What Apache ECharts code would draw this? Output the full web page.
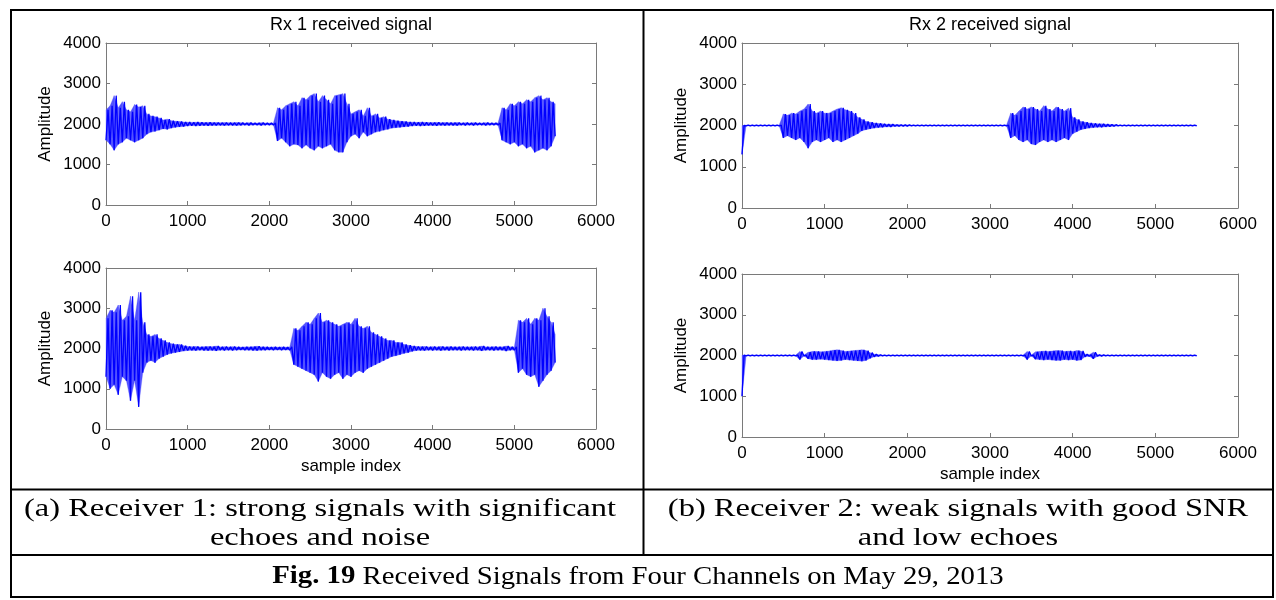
<!doctype html>
<html><head><meta charset="utf-8" />
<style>
  html,body{margin:0;padding:0;background:#ffffff}
  #app{width:1276px;height:600px;background:#ffffff}
</style>
<script src="https://cdn.jsdelivr.net/npm/echarts@6/dist/echarts.min.js"></script>
</head><body><div id="app"></div>
<script>
// envelope of each received signal, every 50 samples (0..5500)
const SAMPLE_STEP = 50;

const rx1TopHi = [
  2350,2450,2700,2400,2550,2350,2300,2480,2420,2450,
  2250,2200,2180,2150,2100,2120,2080,2070,2060,2050,
  2045,2040,2045,2040,2035,2040,2035,2035,2030,2035,
  2030,2030,2035,2030,2025,2030,2025,2025,2030,2025,
  2025,2025,2400,2350,2450,2500,2550,2450,2650,2600,
  2700,2750,2550,2700,2600,2500,2700,2720,2750,2500,
  2250,2300,2350,2200,2400,2200,2250,2150,2180,2120,
  2100,2080,2070,2060,2050,2045,2040,2045,2040,2035,
  2035,2040,2030,2035,2030,2030,2035,2025,2030,2025,
  2030,2025,2025,2030,2025,2025,2025,2400,2350,2500,
  2450,2550,2500,2600,2550,2650,2700,2600,2650,2550,2500
];
const rx1TopLo = [
  1600,1500,1350,1500,1550,1650,1600,1550,1600,1650,
  1750,1800,1820,1850,1880,1870,1900,1920,1930,1940,
  1955,1960,1955,1960,1965,1960,1965,1965,1970,1965,
  1970,1970,1965,1970,1975,1970,1975,1975,1970,1975,
  1975,1975,1580,1650,1550,1450,1500,1480,1400,1480,
  1400,1350,1450,1400,1450,1500,1350,1300,1300,1550,
  1700,1750,1650,1800,1700,1750,1800,1820,1850,1870,
  1900,1910,1920,1930,1940,1955,1960,1955,1960,1965,
  1965,1960,1970,1965,1970,1970,1965,1975,1970,1975,
  1970,1975,1975,1970,1975,1975,1975,1600,1550,1500,
  1550,1450,1500,1400,1450,1300,1350,1400,1350,1450,1700
];

const rx1BotHi = [
  2750,2950,2900,3080,2700,2800,3300,2700,3400,2650,
  2350,2300,2350,2250,2200,2150,2120,2100,2100,2070,
  2050,2045,2050,2040,2045,2050,2045,2060,2040,2045,
  2040,2045,2040,2035,2040,2040,2045,2055,2040,2040,
  2035,2040,2035,2040,2035,2040,2500,2450,2550,2650,
  2600,2750,2880,2650,2700,2650,2600,2550,2600,2650,
  2600,2750,2550,2500,2550,2400,2350,2300,2250,2200,
  2200,2150,2150,2100,2080,2060,2050,2045,2050,2040,
  2045,2040,2050,2040,2045,2040,2040,2045,2040,2040,
  2045,2040,2060,2040,2040,2045,2040,2040,2060,2040,
  2040,2700,2650,2750,2600,2750,2700,3000,2800,2650,2350
];
const rx1BotLo = [
  1300,1000,1100,850,1300,1200,700,1200,550,1400,
  1650,1700,1650,1750,1800,1850,1880,1900,1920,1940,
  1950,1955,1950,1960,1955,1950,1955,1945,1960,1955,
  1960,1955,1960,1965,1960,1960,1955,1950,1960,1960,
  1965,1960,1965,1960,1965,1960,1600,1550,1500,1450,
  1400,1350,1180,1400,1300,1250,1350,1400,1250,1350,
  1300,1400,1450,1400,1500,1550,1600,1650,1700,1750,
  1800,1820,1850,1880,1900,1930,1950,1955,1950,1960,
  1955,1960,1950,1960,1955,1960,1960,1955,1960,1960,
  1955,1960,1945,1960,1960,1955,1960,1960,1940,1960,
  1960,1400,1500,1350,1300,1350,1050,1200,1350,1450,1650
];

const rx2TopHi = [
  2000,2010,2010,2010,2010,2010,2010,2010,2010,2010,
  2280,2250,2300,2280,2350,2400,2520,2350,2300,2350,
  2300,2300,2350,2400,2430,2380,2350,2300,2200,2150,
  2100,2080,2060,2050,2040,2030,2030,2020,2020,2015,
  2015,2010,2010,2010,2010,2010,2010,2010,2010,2010,
  2010,2010,2010,2010,2010,2010,2010,2010,2010,2010,
  2010,2010,2010,2010,2010,2300,2250,2350,2450,2400,
  2450,2400,2350,2480,2400,2350,2450,2400,2350,2420,
  2200,2150,2100,2080,2060,2050,2040,2040,2030,2025,
  2020,2010,2010,2010,2010,2010,2010,2010,2010,2010,
  2010,2010,2010,2010,2010,2010,2010,2010,2010,2010,2010
];
const rx2TopLo = [
  1300,1990,1990,1990,1990,1990,1990,1990,1990,1990,
  1700,1750,1700,1650,1700,1600,1450,1600,1650,1600,
  1650,1700,1600,1650,1600,1650,1700,1750,1800,1870,
  1900,1920,1940,1950,1960,1970,1970,1980,1980,1985,
  1985,1990,1990,1990,1990,1990,1990,1990,1990,1990,
  1990,1990,1990,1990,1990,1990,1990,1990,1990,1990,
  1990,1990,1990,1990,1990,1700,1750,1650,1600,1650,
  1550,1530,1600,1650,1600,1650,1600,1650,1700,1650,
  1800,1850,1900,1920,1940,1950,1960,1960,1970,1975,
  1980,1990,1990,1990,1990,1990,1990,1990,1990,1990,
  1990,1990,1990,1990,1990,1990,1990,1990,1990,1990,1990
];

const rx2BotHi = [
  2010,2010,2010,2010,2010,2010,2010,2010,2010,2010,
  2010,2010,2010,2010,2100,2010,2080,2100,2100,2090,
  2100,2110,2130,2140,2120,2100,2110,2120,2130,2140,
  2120,2070,2030,2020,2010,2010,2010,2010,2010,2010,
  2010,2010,2010,2010,2010,2010,2010,2010,2010,2010,
  2010,2010,2010,2010,2010,2010,2010,2010,2010,2010,
  2010,2010,2010,2010,2010,2010,2010,2010,2010,2100,
  2010,2090,2100,2110,2100,2110,2120,2120,2100,2110,
  2100,2120,2110,2030,2020,2080,2020,2015,2010,2010,
  2010,2010,2010,2010,2010,2010,2010,2010,2010,2010,
  2010,2010,2010,2010,2010,2010,2010,2010,2010,2010,2010
];
const rx2BotLo = [
  1000,1990,1990,1990,1990,1990,1990,1990,1990,1990,
  1990,1990,1990,1990,1900,1990,1920,1900,1900,1910,
  1900,1890,1880,1870,1880,1900,1890,1880,1870,1860,
  1880,1930,1970,1980,1990,1990,1990,1990,1990,1990,
  1990,1990,1990,1990,1990,1990,1990,1990,1990,1990,
  1990,1990,1990,1990,1990,1990,1990,1990,1990,1990,
  1990,1990,1990,1990,1990,1990,1990,1990,1990,1900,
  1990,1910,1900,1890,1900,1890,1880,1880,1900,1890,
  1900,1880,1890,1970,1980,1920,1980,1985,1990,1990,
  1990,1990,1990,1990,1990,1990,1990,1990,1990,1990,
  1990,1990,1990,1990,1990,1990,1990,1990,1990,1990,1990
];

const plotTitles = ['Rx 1 received signal', 'Rx 2 received signal'];
const yName = 'Amplitude';
const xName = 'sample index';
const captionA = ['(a) Receiver 1: strong signals with significant', 'echoes and noise'];
const captionB = ['(b) Receiver 2: weak signals with good SNR', 'and low echoes'];
const figLabel = 'Fig. 19';
const figText = ' Received Signals from Four Channels on May 29, 2013';

// alternate low/high envelope points so the trace looks like the dense raw signal
function zigzag(lo, hi) {
  const pts = [];
  for (let i = 0; i < lo.length; i++) {
    pts.push([i * SAMPLE_STEP, lo[i]]);
    if (i < lo.length - 1) pts.push([i * SAMPLE_STEP + SAMPLE_STEP / 2, hi[i]]);
  }
  return pts;
}
// one quad per step between the low and high envelopes: [x0, lo0, hi0, x1, lo1, hi1]
function bandCells(lo, hi) {
  const out = [];
  for (let i = 0; i < lo.length - 1; i++) {
    out.push([i * SAMPLE_STEP, lo[i], hi[i], (i + 1) * SAMPLE_STEP, lo[i + 1], hi[i + 1]]);
  }
  return out;
}

const FONT = '"Liberation Sans", Arial, sans-serif';
const SERIF = '"Liberation Serif", "Times New Roman", serif';
const AXIS_GREY = '#7a7a7a';
const BLUE = '#0000ff';
const BAND = '#5252ff';

const grids = [
  { left: 106, top: 43, width: 490, height: 162 },
  { left: 106, top: 268, width: 490, height: 161 },
  { left: 742, top: 43, width: 496, height: 165 },
  { left: 742, top: 274, width: 496, height: 163 }
];
const envelopes = [
  [rx1TopLo, rx1TopHi], [rx1BotLo, rx1BotHi],
  [rx2TopLo, rx2TopHi], [rx2BotLo, rx2BotHi]
];

function renderBand(params, api) {
  const a = api.coord([api.value(0), api.value(1)]);
  const b = api.coord([api.value(0), api.value(2)]);
  const c = api.coord([api.value(3), api.value(5)]);
  const d = api.coord([api.value(3), api.value(4)]);
  return { type: 'polygon', shape: { points: [a, b, c, d] }, style: { fill: BAND, stroke: BAND, lineWidth: 0.3 } };
}

const plain = function (v) { return String(v); };
const xAxes = [], yAxes = [], series = [];
grids.forEach(function (g, gi) {
  const isBottom = gi === 1 || gi === 3;
  const lo = envelopes[gi][0], hi = envelopes[gi][1];
  xAxes.push({
    gridIndex: gi, type: 'value', min: 0, max: 6000, interval: 1000, position: 'bottom',
    name: isBottom ? xName : '', nameLocation: 'middle', nameGap: 29,
    nameTextStyle: { color: '#000', fontSize: 17, fontFamily: FONT },
    axisLine: { show: true, onZero: false, lineStyle: { color: AXIS_GREY, width: 1 } },
    axisTick: { show: true, inside: true, length: 4, lineStyle: { color: AXIS_GREY } },
    axisLabel: { color: '#000', fontSize: 17, fontFamily: FONT, margin: 8, formatter: plain },
    splitLine: { show: false }
  });
  xAxes.push({
    gridIndex: gi, type: 'value', min: 0, max: 6000, interval: 1000, position: 'top',
    axisLine: { show: true, onZero: false, lineStyle: { color: AXIS_GREY, width: 1 } },
    axisTick: { show: true, inside: true, length: 4, lineStyle: { color: AXIS_GREY } },
    axisLabel: { show: false }, splitLine: { show: false }
  });
  yAxes.push({
    gridIndex: gi, type: 'value', min: 0, max: 4000, interval: 1000, position: 'left',
    name: yName, nameLocation: 'middle', nameGap: 52,
    nameTextStyle: { color: '#000', fontSize: 17, fontFamily: FONT },
    axisLine: { show: true, onZero: false, lineStyle: { color: AXIS_GREY, width: 1 } },
    axisTick: { show: true, inside: true, length: 4, lineStyle: { color: AXIS_GREY } },
    axisLabel: { color: '#000', fontSize: 17, fontFamily: FONT, margin: 5, formatter: plain },
    splitLine: { show: false }
  });
  yAxes.push({
    gridIndex: gi, type: 'value', min: 0, max: 4000, interval: 1000, position: 'right',
    axisLine: { show: true, onZero: false, lineStyle: { color: AXIS_GREY, width: 1 } },
    axisTick: { show: true, inside: true, length: 4, lineStyle: { color: AXIS_GREY } },
    axisLabel: { show: false }, splitLine: { show: false }
  });
  series.push({
    type: 'custom', coordinateSystem: 'cartesian2d', xAxisIndex: gi * 2, yAxisIndex: gi * 2,
    data: bandCells(lo, hi), renderItem: renderBand, silent: true,
    encode: { x: [0, 3], y: [1, 2, 4, 5] }
  });
  series.push({
    type: 'line', xAxisIndex: gi * 2, yAxisIndex: gi * 2,
    data: zigzag(lo, hi), symbol: 'none', sampling: 'none',
    lineStyle: { color: BLUE, width: 1.3 }
  });
});

const black = '#000';
function caption(x, y, text, sx) {
  return { type: 'text', x: x, y: y, scaleX: sx, style: { text: text, fill: black, fontSize: 25, fontFamily: SERIF, align: 'center', verticalAlign: 'middle' } };
}
const graphic = [
  // table frame
  { type: 'rect', shape: { x: 11, y: 10, width: 1262, height: 587 }, style: { fill: 'none', stroke: black, lineWidth: 2 } },
  { type: 'line', shape: { x1: 643.5, y1: 10, x2: 643.5, y2: 555 }, style: { stroke: black, lineWidth: 2 } },
  { type: 'line', shape: { x1: 11, y1: 489.5, x2: 1273, y2: 489.5 }, style: { stroke: black, lineWidth: 2 } },
  { type: 'line', shape: { x1: 11, y1: 555, x2: 1273, y2: 555 }, style: { stroke: black, lineWidth: 2 } },
  // plot titles
  { type: 'text', x: 351, y: 25, style: { text: plotTitles[0], fill: black, fontSize: 18, fontFamily: FONT, align: 'center', verticalAlign: 'middle' } },
  { type: 'text', x: 990, y: 25, style: { text: plotTitles[1], fill: black, fontSize: 18, fontFamily: FONT, align: 'center', verticalAlign: 'middle' } },
  // captions
  caption(320, 509, captionA[0], 1.3),
  caption(320, 538, captionA[1], 1.3),
  caption(958, 509, captionB[0], 1.3),
  caption(958, 538, captionB[1], 1.3),
  { type: 'text', x: 638, y: 577, scaleX: 1.15, style: {
      text: '{b|' + figLabel + '}' + figText, fill: black, fontSize: 25, fontFamily: SERIF,
      align: 'center', verticalAlign: 'middle',
      rich: { b: { fontWeight: 'bold', fontSize: 25, fontFamily: SERIF, fill: black } }
  } }
];

const chart = echarts.init(document.getElementById('app'));
chart.setOption({
  backgroundColor: '#ffffff',
  animation: false,
  grid: grids,
  xAxis: xAxes,
  yAxis: yAxes,
  series: series,
  graphic: graphic
});
</script></body></html>
